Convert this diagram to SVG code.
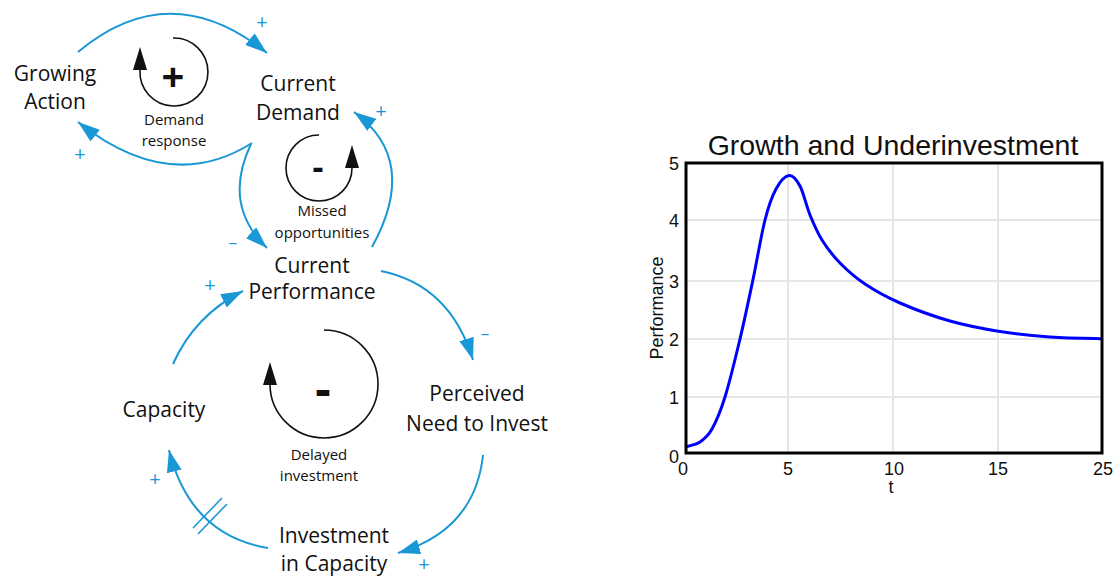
<svg xmlns="http://www.w3.org/2000/svg" width="1115" height="576" viewBox="0 0 1115 576">
<style>
.n{font-family:"Open Sans","DejaVu Sans",sans-serif;font-size:21px;fill:#111;text-anchor:middle}
.s{font-family:"Open Sans","DejaVu Sans",sans-serif;font-size:15px;fill:#111;text-anchor:middle}
.pol{font-family:"Open Sans","DejaVu Sans",sans-serif;fill:#1a98d5;text-anchor:middle;font-size:20px}
.neg{font-family:"Open Sans","DejaVu Sans",sans-serif;fill:#1a98d5;text-anchor:middle;font-size:17px}
.sig{font-family:"Open Sans","DejaVu Sans",sans-serif;font-weight:bold;fill:#111;text-anchor:middle}
.c{fill:none;stroke:#1a98d5;stroke-width:2;marker-end:url(#ah)}
.lp{fill:none;stroke:#111;stroke-width:1.6}
.ax{font-family:"Liberation Sans",Arial,sans-serif;font-size:18px;fill:#111;text-anchor:middle}
.grid{stroke:#e6e6e6;stroke-width:2}
</style>
<defs>
<marker id="ah" markerUnits="userSpaceOnUse" viewBox="0 0 22 15" markerWidth="22" markerHeight="15" refX="22" refY="7.5" orient="auto">
<path d="M0,0 L22,7.5 L0,15 z" fill="#1a98d5"/>
</marker>
</defs>

<g id="connectors">
<path class="c" d="M78,52 Q170,-25 267,53"/>
<path class="c" d="M252,143 Q170,195 78,122"/>
<path class="c" d="M251,144 Q222,205 267,248"/>
<path class="c" d="M372,247 Q420,160 354,112"/>
<path class="c" d="M381,271 Q450,285 473,360"/>
<path class="c" d="M483,455 Q475,530 398,553"/>
<path class="c" d="M268,548 Q190,535 169,450"/>
<path class="c" d="M173,364 Q195,315 243,291"/>
<line x1="193" y1="528" x2="222" y2="498" stroke="#1a98d5" stroke-width="1.6"/>
<line x1="198" y1="534" x2="227" y2="504" stroke="#1a98d5" stroke-width="1.6"/>
<text class="pol" x="262" y="29">+</text>
<text class="pol" x="80" y="161">+</text>
<text class="neg" x="233" y="248">–</text>
<text class="pol" x="381" y="118">+</text>
<text class="neg" x="485" y="339">–</text>
<text class="pol" x="424" y="571">+</text>
<text class="pol" x="155" y="486">+</text>
<text class="pol" x="210" y="292">+</text>
</g>

<g id="growing-action"><text class="n" x="55" y="81">Growing</text><text class="n" x="55" y="109">Action</text></g>
<g id="current-demand"><text class="n" x="298" y="91">Current</text><text class="n" x="298" y="120">Demand</text></g>
<g id="current-performance"><text class="n" x="312" y="273">Current</text><text class="n" x="312" y="299">Performance</text></g>
<g id="capacity"><text class="n" x="164" y="417">Capacity</text></g>
<g id="perceived-need"><text class="n" x="477" y="401">Perceived</text><text class="n" x="477" y="431">Need to Invest</text></g>
<g id="investment"><text class="n" x="334" y="543">Investment</text><text class="n" x="334" y="571">in Capacity</text></g>

<g id="loop-demand-response">
<path class="lp" d="M173,38 A34,34 0 1 1 140,70"/>
<polygon points="140,47 133,70 147,70" fill="#111"/>
<text class="sig" x="173" y="91" font-size="40">+</text>
<text class="s" x="174" y="125">Demand</text><text class="s" x="174" y="146">response</text>
</g>
<g id="loop-missed">
<path class="lp" d="M319,135 A33,33 0 1 0 352,168"/>
<polygon points="352,145 345,168 359,168" fill="#111"/>
<text class="sig" x="318" y="179" font-size="34">-</text>
<text class="s" x="322" y="216">Missed</text><text class="s" x="322" y="238">opportunities</text>
</g>
<g id="loop-delayed">
<path class="lp" d="M324,330 A54,54 0 1 1 270,384"/>
<polygon points="270,362 263,385 277,385" fill="#111"/>
<text class="sig" x="323" y="406" font-size="48">-</text>
<text class="s" x="319" y="460">Delayed</text><text class="s" x="319" y="481">investment</text>
</g>

<g id="chart">
<text x="893" y="155" font-family="Liberation Sans, Arial, sans-serif" font-size="28.5" fill="#111" text-anchor="middle">Growth and Underinvestment</text>
<line class="grid" x1="788" y1="163" x2="788" y2="453"/>
<line class="grid" x1="893" y1="163" x2="893" y2="453"/>
<line class="grid" x1="998" y1="163" x2="998" y2="453"/>
<line class="grid" x1="686" y1="220" x2="1102" y2="220"/>
<line class="grid" x1="686" y1="281" x2="1102" y2="281"/>
<line class="grid" x1="686" y1="339" x2="1102" y2="339"/>
<line class="grid" x1="686" y1="397" x2="1102" y2="397"/>
<path fill="none" stroke="#0000ff" stroke-width="3" stroke-linecap="round" d="M686.7,446.7 C691.1,445.1 695.8,444.95 700,442 C704.2,439.05 707.83,436.5 712,429 C716.17,421.5 720.33,412 725,397 C729.67,382 735.38,358.33 740,339 C744.62,319.67 748.53,300.83 752.7,281 C756.87,261.17 761.12,235.33 765,220 C768.88,204.67 772,196.42 776,189 C780,181.58 785,176 789,175.5 C793,175 796.5,179.42 800,186 C803.5,192.58 806.33,206 810,215 C813.67,224 817,232 822,240 C827,248 832.83,255.67 840,263 C847.17,270.33 855,277.33 865,284 C875,290.67 885.83,296.83 900,303 C914.17,309.17 933.33,316.25 950,321 C966.67,325.75 983.33,328.83 1000,331.5 C1016.67,334.17 1033.33,335.8 1050,337 C1066.67,338.2 1083.33,338.4 1100,338.7"/>
<rect x="686" y="163" width="416" height="290" fill="none" stroke="#000" stroke-width="3"/>
<text class="ax" x="674" y="170">5</text>
<text class="ax" x="674" y="227">4</text>
<text class="ax" x="674" y="288">3</text>
<text class="ax" x="674" y="346">2</text>
<text class="ax" x="674" y="404">1</text>
<text class="ax" x="674" y="463">0</text>
<text class="ax" x="683" y="475">0</text>
<text class="ax" x="788" y="475">5</text>
<text class="ax" x="894" y="475">10</text>
<text class="ax" x="998" y="475">15</text>
<text class="ax" x="1103" y="475">25</text>
<text class="ax" x="891" y="493">t</text>
<text class="ax" transform="translate(663,308) rotate(-90)" x="0" y="0" font-size="19">Performance</text>
</g>
</svg>
